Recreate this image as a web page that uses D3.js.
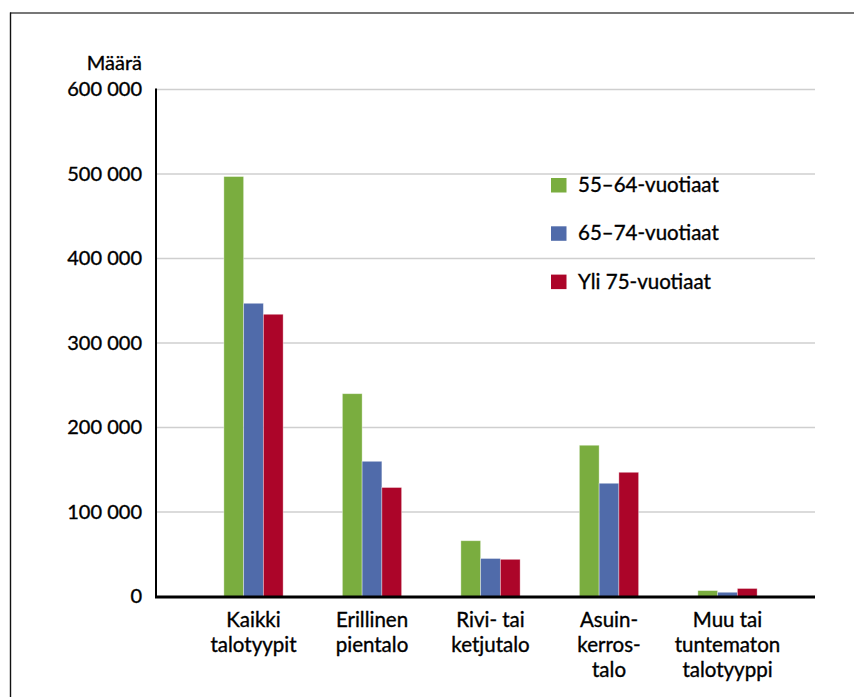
<!DOCTYPE html>
<html>
<head>
<meta charset="utf-8">
<script src="https://cdn.jsdelivr.net/npm/d3@7/dist/d3.min.js"></script>
<style>
  html, body { margin: 0; padding: 0; background: #fff; }
  svg { display: block; font-family: "Lato", "Open Sans", sans-serif; }
  .lbl { fill: #000; stroke: #000; stroke-width: 0.35; }
</style>
</head>
<body>
<svg id="chart" width="854" height="697"></svg>
<script>
// Asuntokunnat talotyypin ja iän mukaan
const categories = [
  ["Kaikki", "talotyypit"],
  ["Erillinen", "pientalo"],
  ["Rivi- tai", "ketjutalo"],
  ["Asuin-", "kerros-", "talo"],
  ["Muu tai", "tuntematon", "talotyyppi"]
];
const seriesNames = ["55–64-vuotiaat", "65–74-vuotiaat", "Yli 75-vuotiaat"];
const seriesColors = ["#7aad3f", "#506baa", "#ac0529"];
const values55_64 = [497000, 240000, 66000, 179000, 7000];
const values65_74 = [347000, 160000, 45000, 134000, 5000];
const valuesYli75 = [334000, 129000, 44000, 147000, 9500];
const yTicks = [0, 100000, 200000, 300000, 400000, 500000, 600000];
const yTitle = "Määrä";

const seriesValues = [values55_64, values65_74, valuesYli75];
const catKeys = categories.map(c => c.join(" "));

const svg = d3.select("#chart");

// Outer frame: top and left edges
svg.append("line").attr("x1", 10).attr("x2", 854).attr("y1", 13).attr("y2", 13)
  .attr("stroke", "#4a4a4a").attr("stroke-width", 1.6);
svg.append("line").attr("x1", 10.5).attr("x2", 10.5).attr("y1", 12.5).attr("y2", 697)
  .attr("stroke", "#111").attr("stroke-width", 1.4);

const plotLeft = 156, plotRight = 815;
const y = d3.scaleLinear().domain([0, 600000]).range([596.5, 89.5]);

const x = d3.scaleBand().domain(catKeys)
  .range([194.25, 786.75]).paddingInner(0.5).paddingOuter(0.25);
const xs = d3.scaleBand().domain(d3.range(seriesNames.length))
  .range([0, x.bandwidth()]).padding(0);

// Gridlines
svg.append("g").selectAll("line").data(yTicks.filter(t => t > 0)).join("line")
  .attr("x1", plotLeft).attr("x2", plotRight)
  .attr("y1", d => y(d)).attr("y2", d => y(d))
  .attr("stroke", "#cfcfcf").attr("stroke-width", 1.5);

// Bars
const groups = svg.append("g").selectAll("g").data(catKeys).join("g")
  .attr("transform", d => `translate(${x(d)},0)`);
groups.selectAll("rect")
  .data((d, i) => seriesValues.map((vals, s) => ({ s, v: vals[i] })))
  .join("rect")
  .attr("x", d => xs(d.s))
  .attr("width", xs.bandwidth())
  .attr("y", d => y(d.v))
  .attr("height", d => y(0) - y(d.v))
  .attr("fill", d => seriesColors[d.s])
  .attr("stroke", "rgba(255,255,255,0.45)")
  .attr("stroke-width", 0.8);

// Y axis
const yAxis = d3.axisLeft(y).tickValues(yTicks).tickSize(0).tickPadding(14)
  .tickFormat(d => d3.format(",")(d).replace(/,/g, " "));
const gy = svg.append("g").attr("transform", `translate(${plotLeft},0)`).call(yAxis);
gy.select(".domain").remove();
gy.selectAll("text").attr("font-size", 20).attr("class", "lbl")
  .attr("font-family", "Lato, sans-serif");
svg.append("line").attr("x1", plotLeft).attr("x2", plotLeft)
  .attr("y1", y(600000) - 1).attr("y2", y(0) + 1.5)
  .attr("stroke", "#000").attr("stroke-width", 2);

// Baseline
svg.append("line").attr("x1", plotLeft - 1).attr("x2", plotRight)
  .attr("y1", y(0) + 0.5).attr("y2", y(0) + 0.5)
  .attr("stroke", "#000").attr("stroke-width", 3);

// Y title
svg.append("text").attr("x", 142).attr("y", 70).attr("text-anchor", "end")
  .attr("font-size", 20).attr("class", "lbl").text(yTitle);

// Category labels
const xl = svg.append("g").selectAll("text").data(categories).join("text")
  .attr("x", (d, i) => x(catKeys[i]) + x.bandwidth() / 2)
  .attr("y", 627)
  .attr("text-anchor", "middle")
  .attr("font-size", 20.5).attr("class", "lbl");
xl.selectAll("tspan").data(d => d).join("tspan")
  .attr("x", function () { return d3.select(this.parentNode).attr("x"); })
  .attr("dy", (d, i) => i === 0 ? 0 : 25)
  .text(d => d);

// Legend
const legend = svg.append("g").selectAll("g").data(seriesNames).join("g")
  .attr("transform", (d, i) => `translate(551,${178 + i * 48.3})`);
legend.append("rect").attr("x", 0).attr("y", 0).attr("width", 15.5).attr("height", 14.5)
  .attr("fill", (d, i) => seriesColors[i]);
legend.append("text").attr("x", 27).attr("y", 14).attr("font-size", 20.5)
  .attr("class", "lbl").text(d => d);
</script>
</body>
</html>
